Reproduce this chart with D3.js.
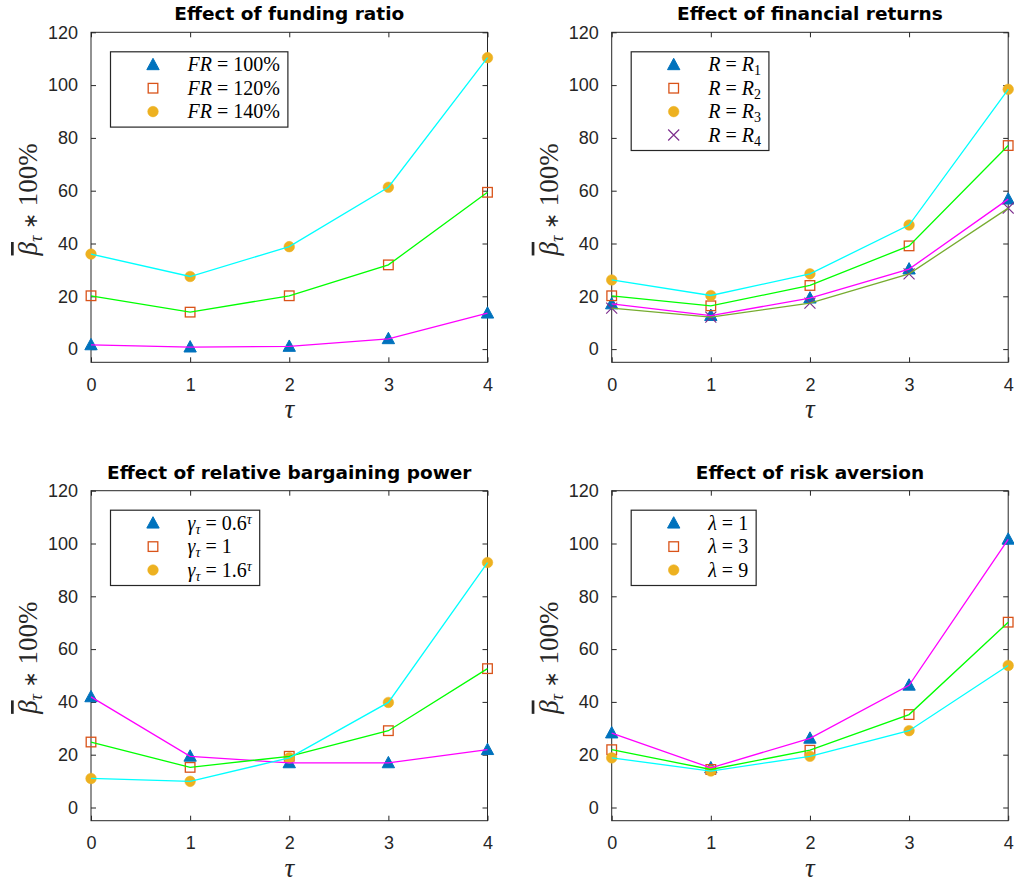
<!DOCTYPE html>
<html>
<head>
<meta charset="utf-8">
<script src="https://cdn.jsdelivr.net/npm/d3@7"></script>
<style>
  html, body { margin: 0; padding: 0; background: #ffffff; }
  svg { display: block; }
</style>
</head>
<body>
<svg id="chart" width="1014" height="884"></svg>
<script>
// ---------------- DATA ----------------
const tau = [0, 1, 2, 3, 4];
const xTicks = [0, 1, 2, 3, 4];
const yTicks = [0, 20, 40, 60, 80, 100, 120];

const titles = [
  "Effect of funding ratio",
  "Effect of financial returns",
  "Effect of relative bargaining power",
  "Effect of risk aversion"
];

// Panel 1: funding ratio
const fr100 = [1.6, 0.75, 1.0, 3.9, 13.6];
const fr120 = [20.2, 14.0, 20.2, 31.9, 59.4];
const fr140 = [36.0, 27.5, 38.8, 61.3, 110.4];
const frLabels = [
  [["FR", "i"], [" = 100%", ""]],
  [["FR", "i"], [" = 120%", ""]],
  [["FR", "i"], [" = 140%", ""]]
];

// Panel 2: financial returns
const r1 = [17.1, 12.7, 19.3, 30.3, 56.8];
const r2 = [20.2, 16.4, 24.1, 39.1, 77.1];
const r3 = [26.2, 20.3, 28.5, 47.0, 98.4];
const r4 = [15.5, 12.1, 17.4, 28.5, 53.4];
const rLabels = [
  [["R", "i"], [" = ", ""], ["R", "i"], ["1", "sub"]],
  [["R", "i"], [" = ", ""], ["R", "i"], ["2", "sub"]],
  [["R", "i"], [" = ", ""], ["R", "i"], ["3", "sub"]],
  [["R", "i"], [" = ", ""], ["R", "i"], ["4", "sub"]]
];

// Panel 3: relative bargaining power
const g06 = [41.9, 19.4, 16.9, 16.9, 21.9];
const g1  = [24.8, 15.2, 19.4, 29.1, 52.6];
const g16 = [11.0, 9.9, 18.8, 39.8, 92.8];
const gLabels = [
  [["γ", "i"], ["τ", "isub"], [" = 0.6", ""], ["τ", "isup"]],
  [["γ", "i"], ["τ", "isub"], [" = 1", ""]],
  [["γ", "i"], ["τ", "isub"], [" = 1.6", ""], ["τ", "isup"]]
];

// Panel 4: risk aversion
const l1 = [28.2, 15.0, 26.2, 46.3, 101.6];
const l3 = [21.9, 14.4, 21.7, 35.2, 70.2];
const l9 = [18.8, 13.8, 19.4, 29.1, 53.8];
const lLabels = [
  [["λ", "i"], [" = 1", ""]],
  [["λ", "i"], [" = 3", ""]],
  [["λ", "i"], [" = 9", ""]]
];

// ---------------- STYLE ----------------
const markerTypes = ["tri", "sq", "circ", "x"];
const markerColors = { tri: "#0072BD", sq: "#D95319", circ: "#EDB120", x: "#7E2F8E" };
const lineColors = ["#FF00FF", "#00FF00", "#00FFFF", "#77AC30"];
const axisColor = "#262626";
const sans = "'Liberation Sans', Arial, Helvetica, sans-serif";
const titleFont = "'DejaVu Sans', 'Open Sans', sans-serif";
const serif = "'Liberation Serif', 'Times New Roman', serif";

const panels = [
  { left: 91,  top: 32.3,  series: [fr100, fr120, fr140], labels: frLabels, title: titles[0] },
  { left: 611.7, top: 32.3, series: [r1, r2, r3, r4], labels: rLabels, title: titles[1] },
  { left: 91,  top: 490.7, series: [g06, g1, g16], labels: gLabels, title: titles[2] },
  { left: 611.7, top: 490.7, series: [l1, l3, l9], labels: lLabels, title: titles[3] }
];
const W = 396.5, H = 330;

const svg = d3.select("#chart");

function drawMarker(g, type, cx, cy) {
  const c = markerColors[type];
  if (type === "tri") {
    const s = 6.5;
    g.append("path")
      .attr("d", `M${cx},${cy - s} L${cx + s * 0.95},${cy + s * 0.75} L${cx - s * 0.95},${cy + s * 0.75} Z`)
      .attr("fill", c).attr("stroke", c).attr("stroke-width", 1);
  } else if (type === "sq") {
    const s = 4.8;
    g.append("rect").attr("x", cx - s).attr("y", cy - s)
      .attr("width", 2 * s).attr("height", 2 * s)
      .attr("fill", "none").attr("stroke", c).attr("stroke-width", 1.3);
  } else if (type === "circ") {
    g.append("circle").attr("cx", cx).attr("cy", cy).attr("r", 5.3)
      .attr("fill", c).attr("stroke", c).attr("stroke-width", 0.5);
  } else if (type === "x") {
    const s = 5.5;
    g.append("path")
      .attr("d", `M${cx - s},${cy - s} L${cx + s},${cy + s} M${cx - s},${cy + s} L${cx + s},${cy - s}`)
      .attr("stroke", c).attr("stroke-width", 1.2).attr("fill", "none");
  }
}

function addMathText(textSel, segs, size) {
  segs.forEach(([t, mode]) => {
    const ts = textSel.append("tspan").text(t);
    if (mode === "i") ts.attr("font-style", "italic");
    if (mode === "sub") ts.attr("font-size", size * 0.7).attr("baseline-shift", "-25%");
    if (mode === "isub") ts.attr("font-size", size * 0.7).attr("font-style", "italic").attr("baseline-shift", "-25%");
    if (mode === "isup") ts.attr("font-size", size * 0.7).attr("font-style", "italic").attr("baseline-shift", "45%");
  });
}

panels.forEach(p => {
  const x = d3.scaleLinear().domain([0, 4]).range([p.left, p.left + W]);
  const y = d3.scaleLinear().domain([-5, 120]).range([p.top + H, p.top]);
  const g = svg.append("g");

  // Box
  g.append("rect").attr("x", p.left).attr("y", p.top).attr("width", W).attr("height", H)
    .attr("fill", "#fff").attr("stroke", axisColor).attr("stroke-width", 1);

  // Axes with inward ticks
  const yAxisL = d3.axisLeft(y).tickValues(yTicks).tickFormat(d3.format("d")).tickSizeInner(-5).tickSizeOuter(0).tickPadding(13);
  const yAxisR = d3.axisRight(y).tickValues(yTicks).tickSizeInner(-5).tickSizeOuter(0).tickFormat("");
  const xAxisB = d3.axisBottom(x).tickValues(xTicks).tickFormat(d3.format("d")).tickSizeInner(-5).tickSizeOuter(0).tickPadding(16);
  const xAxisT = d3.axisTop(x).tickValues(xTicks).tickSizeInner(-5).tickSizeOuter(0).tickFormat("");

  const styleAxis = sel => {
    sel.select(".domain").remove();
    sel.selectAll("line").attr("stroke", axisColor).attr("stroke-width", 1);
    sel.selectAll("text").attr("fill", axisColor).attr("font-family", sans).attr("font-size", 18);
  };
  g.append("g").attr("transform", `translate(${p.left},0)`).call(yAxisL).call(styleAxis);
  g.append("g").attr("transform", `translate(${p.left + W},0)`).call(yAxisR).call(styleAxis);
  g.append("g").attr("transform", `translate(0,${p.top + H})`).call(xAxisB).call(styleAxis);
  g.append("g").attr("transform", `translate(0,${p.top})`).call(xAxisT).call(styleAxis);

  // Title
  g.append("text").attr("x", p.left + W / 2).attr("y", p.top - 12)
    .attr("text-anchor", "middle").attr("font-family", titleFont).attr("font-weight", "bold")
    .attr("font-size", 18.5).attr("fill", "#000").text(p.title);

  // X label
  g.append("text").attr("x", p.left + W / 2).attr("y", p.top + H + 56)
    .attr("text-anchor", "middle").attr("font-family", serif).attr("font-style", "italic")
    .attr("font-size", 27).attr("fill", axisColor).text("τ");

  // Y label
  const yl = g.append("text")
    .attr("transform", `translate(${p.left - 54},${p.top + H / 2 + 2}) rotate(-90)`)
    .attr("text-anchor", "middle").attr("font-family", serif).attr("font-size", 27).attr("fill", axisColor);
  yl.append("tspan").attr("font-style", "italic").attr("text-decoration", "overline").text("β");
  yl.append("tspan").attr("font-style", "italic").attr("font-size", 18).attr("baseline-shift", "-25%").text("τ");
  yl.append("tspan").text(" ");
  yl.append("tspan").attr("font-size", 19).attr("font-family", "'DejaVu Sans', sans-serif").attr("font-weight", "normal").text("∗");
  yl.append("tspan").text(" 100%");

  // Markers (drawn under lines)
  const mg = g.append("g");
  p.series.forEach((s, i) => {
    s.forEach((v, j) => drawMarker(mg, markerTypes[i], x(tau[j]), y(v)));
  });

  // Lines
  const line = d3.line().x((d, j) => x(tau[j])).y(d => y(d));
  p.series.forEach((s, i) => {
    g.append("path").datum(s).attr("d", line)
      .attr("fill", "none").attr("stroke", lineColors[i]).attr("stroke-width", 1.3);
  });

  // Legend
  const lx = p.left + 19.5, ly = p.top + 19.5, rowH = 23.4;
  const lg = g.append("g");
  const box = lg.append("rect").attr("x", lx).attr("y", ly)
    .attr("height", 14 + rowH * (p.labels.length - 1) + 14.5)
    .attr("fill", "#fff").attr("stroke", axisColor).attr("stroke-width", 1.2);
  let maxW = 0;
  p.labels.forEach((lab, i) => {
    const cy = ly + 13 + rowH * i;
    drawMarker(lg, markerTypes[i], lx + 42.5, cy);
    const t = lg.append("text").attr("x", lx + 77).attr("y", cy + 6.5)
      .attr("font-family", serif).attr("font-size", 20).attr("fill", "#000");
    addMathText(t, lab, 20);
    maxW = Math.max(maxW, t.node().getComputedTextLength());
  });
  box.attr("width", 77 + maxW + 8);
});
</script>
</body>
</html>
